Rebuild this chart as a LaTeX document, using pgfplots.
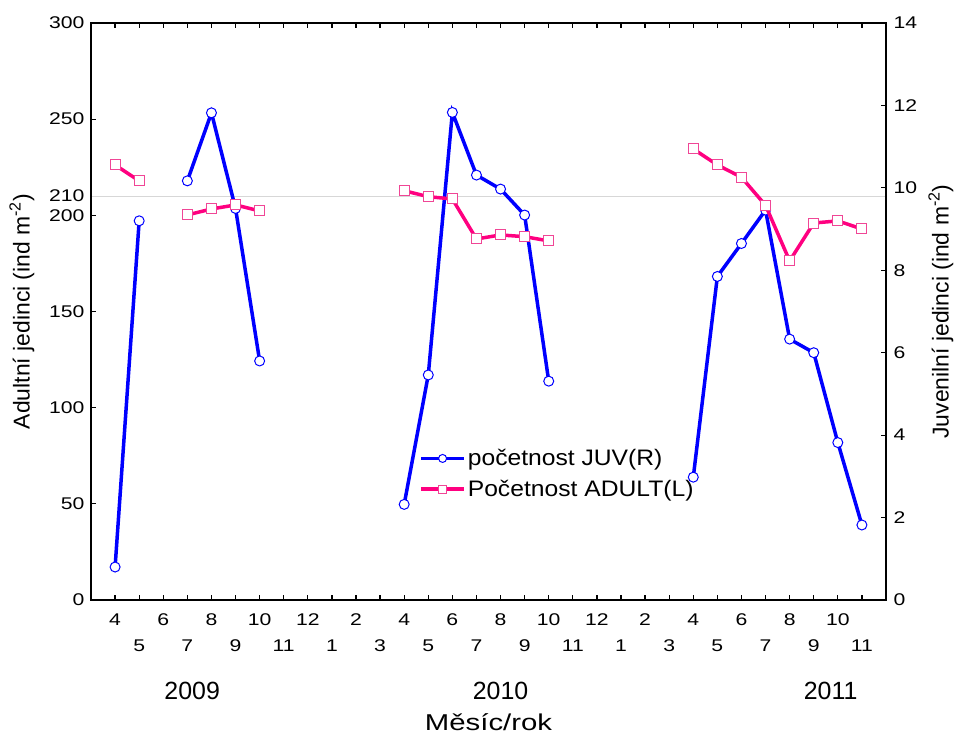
\documentclass[border=0pt]{standalone}
\usepackage{pgfplots}
\pgfplotsset{compat=1.18}
\usepackage{fontspec}
\setmainfont{Liberation Sans}
\newfontfamily\tickfont{Liberation Sans}[FakeStretch=1.25]
\newfontfamily\widefont{Liberation Sans}[FakeStretch=1.28]
\newfontfamily\legfont{Liberation Sans}[FakeStretch=1.1]

\definecolor{juvblue}{RGB}{0,0,255}
\definecolor{adultpink}{RGB}{255,0,128}
\definecolor{adultmark}{RGB}{240,70,150}
\definecolor{refgray}{RGB}{215,215,215}

\pgfplotsset{
  panel/.style={
    scale only axis, width=795bp, height=577bp,
    at={(91bp,136bp)}, anchor=south west,
    xmin=-1, xmax=32,
    unbounded coords=jump,
    tick align=inside,
    axis line style={line width=2bp, black},
    major tick style={line width=1.2bp, black},
    major tick length=5bp,
    /pgf/number format/assume math mode=true,
    tick label style={font=\tickfont\fontsize{17}{17}\selectfont},
  },
  longlegend/.style={
    legend image code/.code={\draw[mark repeat=2, mark phase=2, ##1, mark size=4bp]
      plot coordinates {(0bp,0bp) (21.5bp,0bp) (43bp,0bp)};}},
  juvstyle/.style={color=juvblue, line width=3.5bp, mark=*, mark size=5bp,
    mark options={fill=white, draw=juvblue, line width=1bp, solid}, longlegend},
  adultstyle/.style={color=adultpink, line width=3.5bp, mark=square*, mark size=5bp,
    mark options={fill=white, draw=adultmark, line width=1bp, solid}, longlegend},
}

\begin{document}
\begin{tikzpicture}
% juveniles, right-hand scale
\begin{axis}[panel,
  ymin=0, ymax=14, ytick={0,2,...,14},
  axis y line*=right, axis x line=none,
  extra y ticks={9.8}, extra y tick labels={},
  extra y tick style={grid=major, major grid style={refgray, line width=0.9bp}, major tick length=0pt},
  yticklabel style={anchor=west, xshift=4bp},
  ylabel={Juvenilní jedinci (ind m\textsuperscript{-2})},
  every axis y label/.style={at={(axis description cs:1.069,0.5)}, rotate=90, anchor=center,
    font=\fontsize{23}{23}\selectfont},
]
\addplot[juvstyle] coordinates {
  (0,0.80) (1,9.20) (2,nan) (3,10.17) (4,11.82) (5,9.50) (6,5.80) (7,nan)
  (12,2.32) (13,5.46) (14,11.83) (15,10.31) (16,9.97) (17,9.34) (18,5.31) (19,nan)
  (24,2.98) (25,7.85) (26,8.65) (27,9.46) (28,6.33) (29,6.00) (30,3.82) (31,1.82)
};
\end{axis}

% adults, left-hand scale
\begin{axis}[panel,
  clip=false,
  ymin=0, ymax=300, ytick={0,50,...,300}, ytick pos=left,
  yticklabel style={xshift=-3bp},
  extra y ticks={210}, extra y tick labels={210},
  extra y tick style={major tick length=0pt},
  xtick={0,2,...,30},
  xticklabels={4,6,8,10,12,2,4,6,8,10,12,2,4,6,8,10},
  xticklabel style={yshift=-10bp},
  extra x ticks={1,3,...,31},
  extra x tick labels={5,7,9,11,1,3,5,7,9,11,1,3,5,7,9,11},
  extra x tick style={xticklabel style={yshift=-26bp}},
  xlabel={Měsíc/rok},
  every axis x label/.style={at={(axis description cs:0.5,-0.2114)}, anchor=center,
    font=\widefont\fontsize{23}{23}\selectfont},
  ylabel={Adultní jedinci (ind m\textsuperscript{-2})},
  every axis y label/.style={at={(axis description cs:-0.087,0.5)}, rotate=90, anchor=center,
    font=\fontsize{23}{23}\selectfont},
  legend style={at={(0.409,0.268)}, anchor=north west, draw=none, fill=none,
    font=\legfont\fontsize{22.5}{26}\selectfont, row sep=9bp},
  legend cell align=left,
]
\addlegendimage{juvstyle}
\addlegendentry{početnost JUV(R)}
\addplot[adultstyle] coordinates {
  (0,226.2) (1,217.9) (2,nan) (3,200.2) (4,203.3) (5,205.4) (6,202.3) (7,nan)
  (12,212.8) (13,209.7) (14,208.5) (15,187.7) (16,189.8) (17,188.9) (18,186.7) (19,nan)
  (24,234.5) (25,226.2) (26,219.8) (27,205.2) (28,176.3) (29,196.0) (30,197.1) (31,192.9)
};
\addlegendentry{Početnost ADULT(L)}
\path (axis cs:2.2,0) ++(0,-91bp) node[font=\fontsize{25}{25}\selectfont] {2009};
\path (axis cs:15,0) ++(0,-91bp) node[font=\fontsize{25}{25}\selectfont] {2010};
\path (axis cs:28.7,0) ++(0,-91bp) node[font=\fontsize{25}{25}\selectfont] {2011};
\end{axis}
\pgfresetboundingbox
\useasboundingbox (0,0) rectangle (960bp,736bp);
\end{tikzpicture}
\end{document}
